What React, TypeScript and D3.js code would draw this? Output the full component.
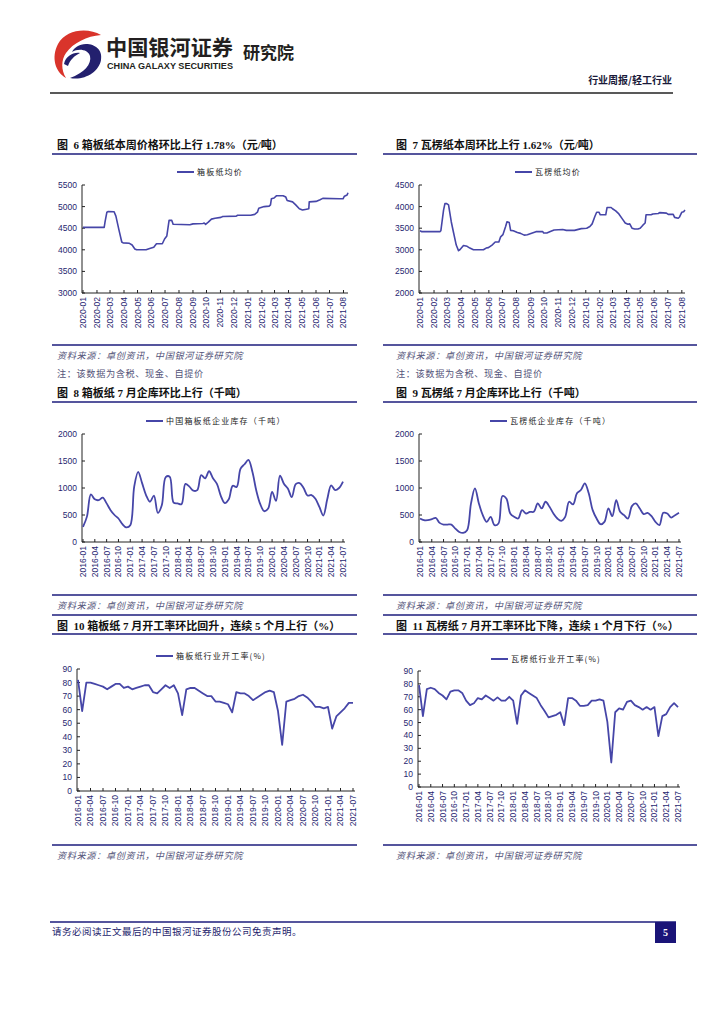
import React from "react";
import * as d3 from "d3";

// ---------- DATA ----------
const boxPriceDates = [
  "2020-01-01","2020-02-17","2020-02-19","2020-02-23","2020-02-26","2020-03-10","2020-03-14","2020-03-21",
  "2020-03-27","2020-03-30","2020-04-13","2020-04-19","2020-04-25","2020-04-29","2020-05-20","2020-05-28",
  "2020-06-06","2020-06-12","2020-06-25","2020-06-30","2020-07-05","2020-07-10","2020-07-16","2020-07-19",
  "2020-08-25","2020-09-01","2020-09-23","2020-09-26","2020-09-29","2020-10-05","2020-10-12","2020-10-20",
  "2020-11-02","2020-11-06","2020-12-06","2020-12-09","2021-01-07","2021-01-16","2021-01-22","2021-01-25",
  "2021-02-06","2021-02-17","2021-02-20","2021-02-22","2021-02-28","2021-03-05","2021-03-20","2021-03-26",
  "2021-03-29","2021-04-10","2021-04-17","2021-04-25","2021-05-02","2021-05-11","2021-05-16","2021-05-17",
  "2021-06-01","2021-06-10","2021-06-16","2021-07-23","2021-07-31","2021-08-03","2021-08-09","2021-08-11"
];
const boxPriceValues = [
  4520,4520,4650,4870,4885,4880,4780,4450,
  4180,4160,4150,4110,4020,4000,4000,4030,
  4060,4140,4140,4250,4320,4680,4680,4590,
  4580,4600,4610,4620,4590,4640,4710,4730,
  4750,4770,4780,4800,4800,4820,4870,4960,
  5000,5010,5040,5180,5200,5250,5250,5220,
  5140,5110,5040,4950,4920,4940,4950,5110,
  5120,5160,5190,5180,5180,5240,5270,5320
];

const corrPriceDates = [
  "2020-01-01","2020-01-05","2020-02-14","2020-02-16","2020-02-22","2020-02-25","2020-02-29","2020-03-04",
  "2020-03-10","2020-03-15","2020-03-21","2020-03-26","2020-03-29","2020-04-06","2020-04-14","2020-04-20",
  "2020-04-28","2020-05-20","2020-05-26","2020-05-31","2020-06-08","2020-06-15","2020-06-23","2020-06-27",
  "2020-07-02","2020-07-08","2020-07-11","2020-07-16","2020-07-19","2020-07-25","2020-08-03","2020-08-10",
  "2020-08-18","2020-08-25","2020-09-05","2020-09-13","2020-09-28","2020-09-30","2020-10-07","2020-10-16",
  "2020-10-23","2020-11-11","2020-11-19","2020-12-07","2020-12-22","2021-01-03","2021-01-10","2021-01-15",
  "2021-01-21","2021-01-25","2021-01-30","2021-02-02","2021-02-14","2021-02-17","2021-02-26","2021-03-01",
  "2021-03-08","2021-03-15","2021-03-23","2021-03-29","2021-04-04","2021-04-08","2021-04-13","2021-04-19",
  "2021-04-26","2021-05-01","2021-05-07","2021-05-12","2021-05-14","2021-05-25","2021-05-29","2021-06-10",
  "2021-06-13","2021-06-28","2021-07-02","2021-07-13","2021-07-16","2021-07-24","2021-07-27","2021-08-01",
  "2021-08-05","2021-08-08"
];
const corrPriceValues = [
  3440,3420,3420,3440,3920,4070,4070,4040,
  3650,3400,3110,2980,3000,3100,3080,3040,
  3000,3000,3040,3050,3110,3180,3180,3300,
  3350,3540,3650,3630,3450,3440,3400,3380,
  3340,3350,3390,3420,3420,3390,3390,3430,
  3460,3470,3450,3450,3490,3500,3540,3600,
  3770,3870,3870,3810,3810,3980,3980,3950,
  3900,3830,3710,3620,3590,3600,3500,3480,
  3480,3500,3570,3620,3810,3810,3830,3840,
  3860,3850,3820,3820,3750,3730,3760,3870,
  3880,3920
];

// monthly series 2016-01 .. 2021-07
const boxInventory = [
  280,470,880,790,775,820,715,590,500,435,330,270,
  310,1025,1300,1090,870,745,860,540,680,1200,1210,730,
  715,700,1075,1025,950,960,1240,1180,1310,1180,1075,850,
  720,790,1040,1020,1360,1440,1520,1300,950,700,570,620,
  930,760,1230,1080,990,830,1070,1090,1000,860,870,800,
  650,490,790,1050,960,1000,1120
];
const corrInventory = [
  435,404,404,422,447,354,323,323,323,248,186,168,
  217,714,994,714,497,373,466,311,342,851,807,528,
  466,435,590,528,559,559,714,621,745,652,528,435,
  391,466,745,696,901,963,1087,901,590,435,329,373,
  621,478,776,559,497,435,665,714,621,516,540,478,
  373,311,540,528,453,497,540
];
const boxRate = [
  82,59,80,80,79,78,77,75,77,79,79,76,
  77,75,76,77,78,78,73,72,75,78,76,78,
  72,56,75,76,76,74,72,70,70,66,66,65,
  64,58,73,72,72,70,67,69,71,73,74,73,
  59,34,66,67,68,70,71,69,66,62,62,61,
  62,46,55,58,61,65,65
];
const corrRate = [
  79,55,76,77,76,73,71,68,74,75,75,73,
  67,63.5,65,69,68,71,69,67,69.5,67,67,70,
  67,49,71,75,73,71,69,63.5,59,54,55,56,
  58,48,69,69,67,63,63,63.5,67,67,68,67,
  50.5,19,58,61,60,66,67,63.5,62,60,62,60,
  62,39.5,55,56.5,62,65,62
];

const priceTicksBox = [3000, 3500, 4000, 4500, 5000, 5500];
const priceTicksCorr = [2000, 2500, 3000, 3500, 4000, 4500];
const inventoryTicks = [0, 500, 1000, 1500, 2000];
const rateTicks = [0, 10, 20, 30, 40, 50, 60, 70, 80, 90];

const monthStart = new Date(2016, 0, 1);
const months = d3.timeMonth.range(monthStart, new Date(2021, 7, 1));

// ---------- STYLE ----------
const LINE = "#4646a8";
const NAVY = "#1c1c7c";
const AXIS_TEXT = "#1f1f70";
const CJK = '"Noto Sans CJK SC", sans-serif';
const SANS = '"Liberation Sans", Arial, sans-serif';
const TITLE_FONT = '"Liberation Serif", "Noto Sans CJK SC", serif';
const fmtMonth = d3.timeFormat("%Y-%m");
const parse = d3.timeParse("%Y-%m-%d");

type Frame = { x0: number; x1: number; top: number; bottom: number };

function YAxis({ f, y, ticks }: { f: Frame; y: d3.ScaleLinear<number, number>; ticks: number[] }) {
  return (
    <g>
      <line x1={f.x0} x2={f.x0} y1={f.top} y2={f.bottom} stroke="#222" strokeWidth={1} />
      {ticks.map((t) => (
        <g key={t}>
          <line x1={f.x0} x2={f.x0 + 3} y1={y(t)} y2={y(t)} stroke="#222" strokeWidth={1} />
          <text x={f.x0 - 5} y={y(t)} dy="0.35em" textAnchor="end" fontFamily={SANS} fontSize={8.5} fill={AXIS_TEXT}>
            {t}
          </text>
        </g>
      ))}
    </g>
  );
}

function XLabels({ f, positions, labels, axisEnd }: { f: Frame; positions: number[]; labels: string[]; axisEnd: number }) {
  return (
    <g>
      <line x1={f.x0} x2={axisEnd} y1={f.bottom} y2={f.bottom} stroke="#222" strokeWidth={1} />
      {positions.map((px, i) => (
        <g key={i}>
          <line x1={px} x2={px} y1={f.bottom} y2={f.bottom - 3} stroke="#222" strokeWidth={1} />
          <text
            transform={`translate(${px},${f.bottom + 4}) rotate(-90)`}
            dy="0.35em"
            textAnchor="end"
            fontFamily={SANS}
            fontSize={8.5}
            fill={AXIS_TEXT}
          >
            {labels[i]}
          </text>
        </g>
      ))}
    </g>
  );
}

function Legend({ x, y, text }: { x: number; y: number; text: string }) {
  return (
    <g>
      <line x1={x} x2={x + 17} y1={y} y2={y} stroke={LINE} strokeWidth={2} />
      <text x={x + 20} y={y} dy="0.35em" fontFamily={CJK} fontSize={8} letterSpacing={1.2} fill="#222">
        {text}
      </text>
    </g>
  );
}

function PriceChart({ f, dates, values, ticks, legend }: { f: Frame; dates: string[]; values: number[]; ticks: number[]; legend: { x: number; y: number; text: string } }) {
  const ds = dates.map((d) => parse(d) as Date);
  const x = d3.scaleTime().domain([ds[0], ds[ds.length - 1]]).range([f.x0 + 1, f.x1]);
  const y = d3.scaleLinear().domain([ticks[0], ticks[ticks.length - 1]]).range([f.bottom, f.top]);
  const tickDates = d3.timeMonth.range(ds[0], ds[ds.length - 1]);
  const line = d3
    .line<number>()
    .x((_, i) => x(ds[i]))
    .y((v) => y(v));
  return (
    <g>
      <Legend {...legend} />
      <YAxis f={f} y={y} ticks={ticks} />
      <XLabels f={f} positions={tickDates.map((d) => x(d))} labels={tickDates.map(fmtMonth)} axisEnd={f.x1} />
      <path d={line(values) || ""} fill="none" stroke={LINE} strokeWidth={1.6} strokeLinejoin="round" />
    </g>
  );
}

function MonthlyChart({ f, values, ticks, legend, smooth }: { f: Frame; values: number[]; ticks: number[]; legend: { x: number; y: number; text: string }; smooth: boolean }) {
  const x = d3.scaleLinear().domain([0, months.length - 1]).range([f.x0 + 1, f.x1]);
  const y = d3.scaleLinear().domain([ticks[0], ticks[ticks.length - 1]]).range([f.bottom, f.top]);
  const idx = months.map((_, i) => i).filter((i) => i % 3 === 0);
  const line = d3
    .line<number>()
    .x((_, i) => x(i))
    .y((v) => y(v))
    .curve(smooth ? d3.curveCatmullRom.alpha(0.5) : d3.curveLinear);
  return (
    <g>
      <Legend {...legend} />
      <YAxis f={f} y={y} ticks={ticks} />
      <XLabels f={f} positions={idx.map((i) => x(i))} labels={idx.map((i) => fmtMonth(months[i]))} axisEnd={f.x1 + 2} />
      <path d={line(values) || ""} fill="none" stroke={LINE} strokeWidth={1.8} strokeLinejoin="round" />
    </g>
  );
}

function HLine({ x1, x2, y, w = 1.6 }: { x1: number; x2: number; y: number; w?: number }) {
  return <line x1={x1} x2={x2} y1={y} y2={y} stroke={NAVY} strokeWidth={w} />;
}

function Title({ x, y, text }: { x: number; y: number; text: string }) {
  return (
    <text x={x} y={y} dy="0.35em" fontFamily={TITLE_FONT} fontWeight={700} fontSize={11} fill="#111" style={{ whiteSpace: "pre" }}>
      {text}
    </text>
  );
}

function Source({ x, y, text, italic = true }: { x: number; y: number; text: string; italic?: boolean }) {
  return (
    <text x={x} y={y} dy="0.35em" fontFamily={CJK} fontStyle={italic ? "italic" : "normal"} fontSize={9.2} letterSpacing={0.6} fill="#55557a">
      {text}
    </text>
  );
}

const SRC = "资料来源：卓创资讯，中国银河证券研究院";
const NOTE = "注：该数据为含税、现金、自提价";

export default function App() {
  const L = { a: 52, b: 357, t: 57 };
  const R = { a: 383, b: 697, t: 396 };
  return (
    <svg width={724} height={1024} style={{ position: "absolute", left: 0, top: 0, background: "#fff" }}>
      <rect width={724} height={1024} fill="#fff" />
      {/* Header logo */}
      <g>
        <path d="M101 35 C88 27 66 29 58 44 C51 57 55 72 66 78 C61 70 61 60 66 53 C73 43 87 36 101 35 Z" fill="#d9342b" />
        <path d="M70 78 C84 81 99 72 101 60 C103 50 95 44 86 44 C79 44 74 48 72 52 C78 48 88 49 90 56 C92 64 84 73 70 78 Z" fill="#23206e" />
        <path d="M64 64 C66 56 73 52 80 53 C74 56 70 60 68 66 Z" fill="#23206e" />
      </g>
      <text x={106} y={55} fontFamily={CJK} fontWeight={700} fontSize={21} fill="#231f20" textLength={127} lengthAdjust="spacingAndGlyphs">
        中国银河证券
      </text>
      <text x={107} y={69} fontFamily={SANS} fontWeight={700} fontSize={9.5} fill="#231f20" textLength={126} lengthAdjust="spacingAndGlyphs">
        CHINA GALAXY SECURITIES
      </text>
      <text x={243} y={59} fontFamily={CJK} fontWeight={700} fontSize={17} fill="#231f20">
        研究院
      </text>
      <text x={672} y={84} textAnchor="end" fontFamily={CJK} fontWeight={700} fontSize={10} fill="#1a1a3a">
        行业周报/轻工行业
      </text>
      <line x1={50} x2={673} y1={93} y2={93} stroke="#222" strokeWidth={1.5} />

      {/* Row 1: price charts */}
      <Title x={L.t} y={145} text="图  6 箱板纸本周价格环比上行 1.78%（元/吨）" />
      <Title x={R.t} y={145} text="图  7 瓦楞纸本周环比上行 1.62%（元/吨）" />
      <HLine x1={L.a} x2={L.b} y={154} />
      <HLine x1={R.a} x2={R.b} y={154} />
      <PriceChart
        f={{ x0: 82, x1: 348, top: 185, bottom: 293 }}
        dates={boxPriceDates}
        values={boxPriceValues}
        ticks={priceTicksBox}
        legend={{ x: 177, y: 172, text: "箱板纸均价" }}
      />
      <PriceChart
        f={{ x0: 419, x1: 685, top: 185, bottom: 293 }}
        dates={corrPriceDates}
        values={corrPriceValues}
        ticks={priceTicksCorr}
        legend={{ x: 515, y: 172, text: "瓦楞纸均价" }}
      />
      <HLine x1={L.a} x2={L.b} y={345} />
      <HLine x1={R.a} x2={R.b} y={345} />
      <Source x={L.t} y={356} text={SRC} />
      <Source x={R.t} y={356} text={SRC} />
      <Source x={L.t} y={374} text={NOTE} italic={false} />
      <Source x={R.t} y={374} text={NOTE} italic={false} />

      {/* Row 2: inventory */}
      <Title x={L.t} y={393} text="图  8 箱板纸 7 月企库环比上行（千吨）" />
      <Title x={R.t} y={393} text="图  9 瓦楞纸 7 月企库环比上行（千吨）" />
      <HLine x1={L.a} x2={L.b} y={402} />
      <HLine x1={R.a} x2={R.b} y={402} />
      <MonthlyChart
        f={{ x0: 82, x1: 343, top: 434, bottom: 542 }}
        values={boxInventory}
        ticks={inventoryTicks}
        legend={{ x: 146, y: 421, text: "中国箱板纸企业库存（千吨）" }}
        smooth
      />
      <MonthlyChart
        f={{ x0: 419, x1: 679, top: 434, bottom: 542 }}
        values={corrInventory}
        ticks={inventoryTicks}
        legend={{ x: 490, y: 421, text: "瓦楞纸企业库存（千吨）" }}
        smooth
      />
      <HLine x1={L.a} x2={L.b} y={595} />
      <HLine x1={R.a} x2={R.b} y={595} />
      <Source x={L.t} y={606} text={SRC} />
      <Source x={R.t} y={606} text={SRC} />

      {/* Row 3: operating rate */}
      <HLine x1={L.a} x2={L.b} y={615} />
      <HLine x1={R.a} x2={R.b} y={615} />
      <Title x={L.t} y={626} text="图  10 箱板纸 7 月开工率环比回升，连续 5 个月上行（%）" />
      <Title x={R.t} y={626} text="图  11 瓦楞纸 7 月开工率环比下降，连续 1 个月下行（%）" />
      <HLine x1={L.a} x2={L.b} y={634} />
      <HLine x1={R.a} x2={R.b} y={634} />
      <MonthlyChart
        f={{ x0: 77, x1: 353, top: 669, bottom: 791 }}
        values={boxRate}
        ticks={rateTicks}
        legend={{ x: 156, y: 656, text: "箱板纸行业开工率(%)" }}
        smooth={false}
      />
      <MonthlyChart
        f={{ x0: 418, x1: 678, top: 671, bottom: 787 }}
        values={corrRate}
        ticks={rateTicks}
        legend={{ x: 491, y: 659, text: "瓦楞纸行业开工率(%)" }}
        smooth={false}
      />
      <HLine x1={L.a} x2={L.b} y={845} />
      <HLine x1={R.a} x2={R.b} y={845} />
      <Source x={L.t} y={856} text={SRC} />
      <Source x={R.t} y={856} text={SRC} />

      {/* Footer */}
      <line x1={50} x2={676} y1={922} y2={922} stroke={NAVY} strokeWidth={1.6} />
      <text x={52} y={932} dy="0.35em" fontFamily={CJK} fontSize={9.5} letterSpacing={0.5} fill="#1c1c6c">
        请务必阅读正文最后的中国银河证券股份公司免责声明。
      </text>
      <rect x={655} y={922} width={21} height={21} fill="#1a1478" />
      <text x={665.5} y={932.5} dy="0.35em" textAnchor="middle" fontFamily={TITLE_FONT} fontWeight={700} fontSize={10} fill="#fff">
        5
      </text>
    </svg>
  );
}
